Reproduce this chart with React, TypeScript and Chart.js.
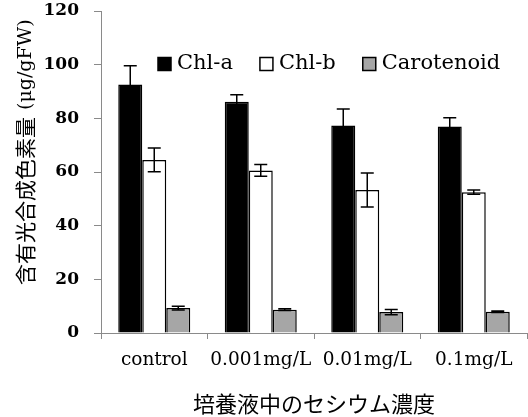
import { useEffect, useRef } from "react";
import { Chart, registerables } from "chart.js";

Chart.register(...registerables);

// Caesium concentration in the culture solution
const categories = ["control", "0.001mg/L", "0.01mg/L", "0.1mg/L"];

// Pigment content (µg/gFW) with standard errors
const chlA = [92.6, 86.2, 77.3, 77.0];
const chlAErr = [7.0, 2.6, 6.2, 3.2];
const chlB = [64.5, 60.6, 53.3, 52.5];
const chlBErr = [4.4, 2.2, 6.3, 0.8];
const carotenoid = [9.3, 8.7, 7.8, 7.9];
const carotenoidErr = [0.7, 0.3, 1.0, 0.3];

const seriesNames = ["Chl-a", "Chl-b", "Carotenoid"];
const seriesFills = ["#000000", "#ffffff", "#a6a6a6"];
const seriesErrors = [chlAErr, chlBErr, carotenoidErr];

const yMin = 0;
const yMax = 120;
const yStep = 20;

const yTitleMain = "含有光合成色素量";
const yTitleUnit = "(μg/gFW)";
const xTitle = "培養液中のセシウム濃度";

const AXIS_GRAY = "#8a8a8a";
const SERIF = "'DejaVu Serif', 'Liberation Serif', serif";
const CJK = "'Noto Sans CJK JP', 'Noto Sans', sans-serif";

// Symmetric error bars with caps, drawn on top of each bar
const errorBarPlugin = {
  id: "errorBars",
  afterDatasetsDraw(chart: any) {
    const ctx = chart.ctx;
    const yScale = chart.scales.y;
    ctx.save();
    ctx.strokeStyle = "#000";
    ctx.lineWidth = 1.5;
    chart.data.datasets.forEach((ds: any, i: number) => {
      const meta = chart.getDatasetMeta(i);
      const errs = seriesErrors[i];
      meta.data.forEach((bar: any, j: number) => {
        const v = ds.data[j];
        const e = errs[j];
        const yTop = yScale.getPixelForValue(v + e);
        const yBot = yScale.getPixelForValue(v - e);
        const x = bar.x;
        const half = 6.5;
        ctx.beginPath();
        ctx.moveTo(x, yTop);
        ctx.lineTo(x, yBot);
        ctx.moveTo(x - half, yTop);
        ctx.lineTo(x + half, yTop);
        ctx.moveTo(x - half, yBot);
        ctx.lineTo(x + half, yBot);
        ctx.stroke();
      });
    });
    ctx.restore();
  },
};

// Legend row drawn inside the plot area
const legendPlugin = {
  id: "inlineLegend",
  afterDraw(chart: any) {
    const ctx = chart.ctx;
    const area = chart.chartArea;
    const box = 13;
    let x = area.left + 57;
    const cy = area.top + 53;
    ctx.save();
    ctx.font = `21px ${SERIF}`;
    ctx.textBaseline = "middle";
    ctx.textAlign = "left";
    chart.data.datasets.forEach((ds: any) => {
      ctx.fillStyle = ds.backgroundColor;
      ctx.fillRect(x, cy - box / 2, box, box);
      ctx.strokeStyle = "#000";
      ctx.lineWidth = 1.5;
      ctx.strokeRect(x, cy - box / 2, box, box);
      x += box + 6;
      ctx.fillStyle = "#000";
      ctx.fillText(ds.label, x, cy);
      x += ctx.measureText(ds.label).width + 27;
    });
    ctx.restore();
  },
};

// Rotated y-axis title: Japanese label followed by the unit
const yTitlePlugin = {
  id: "yTitle",
  afterDraw(chart: any) {
    const ctx = chart.ctx;
    const area = chart.chartArea;
    ctx.save();
    ctx.translate(25, area.bottom - 48);
    ctx.rotate(-Math.PI / 2);
    ctx.fillStyle = "#000";
    ctx.textBaseline = "middle";
    ctx.textAlign = "left";
    ctx.font = `21px ${CJK}`;
    ctx.fillText(yTitleMain, 0, 0);
    const w = ctx.measureText(yTitleMain).width;
    ctx.font = `19px ${SERIF}`;
    ctx.fillText(yTitleUnit, w + 7, 1);
    ctx.restore();
  },
};

export default function App() {
  const canvasRef = useRef<HTMLCanvasElement | null>(null);

  useEffect(() => {
    const canvas = canvasRef.current;
    if (!canvas) return;
    const chart = new Chart(canvas, {
      type: "bar",
      data: {
        labels: categories,
        datasets: [chlA, chlB, carotenoid].map((values, i) => ({
          label: seriesNames[i],
          data: values,
          backgroundColor: seriesFills[i],
          borderColor: "#000",
          borderWidth: 1.5,
          barPercentage: 1,
          categoryPercentage: 0.676,
        })),
      },
      options: {
        responsive: false,
        animation: false,
        layout: { padding: { top: 0, right: 1, left: 0, bottom: 0 } },
        plugins: {
          legend: { display: false },
          tooltip: { enabled: false },
        },
        scales: {
          x: {
            afterFit: (scale: any) => {
              scale.height = 84;
              scale.paddingLeft = 0;
              scale.paddingRight = 0;
            },
            border: { color: AXIS_GRAY, width: 1 },
            grid: {
              offset: true,
              drawOnChartArea: false,
              drawTicks: true,
              tickLength: 6,
              color: AXIS_GRAY,
            },
            ticks: {
              color: "#000",
              padding: 10,
              autoSkip: false,
              maxRotation: 0,
              minRotation: 0,
              font: { family: SERIF, size: 18.5 },
            },
            title: {
              display: true,
              text: xTitle,
              color: "#000",
              padding: { top: 0, bottom: 0 },
              font: { family: CJK, size: 22 },
            },
          },
          y: {
            min: yMin,
            max: yMax,
            afterFit: (scale: any) => {
              scale.width = 101;
              scale.paddingTop = 11;
              scale.paddingBottom = 0;
            },
            border: { color: AXIS_GRAY, width: 1 },
            grid: {
              drawOnChartArea: false,
              drawTicks: true,
              tickLength: 7,
              color: AXIS_GRAY,
            },
            ticks: {
              stepSize: yStep,
              color: "#000",
              padding: 15,
              font: { family: SERIF, size: 17, weight: "bold" },
            },
          },
        },
      },
      plugins: [errorBarPlugin, legendPlugin, yTitlePlugin],
    });
    return () => chart.destroy();
  }, []);

  return (
    <div style={{ position: "absolute", left: 0, top: 0, width: 528, height: 417, background: "#fff" }}>
      <canvas ref={canvasRef} width={528} height={417} />
    </div>
  );
}
